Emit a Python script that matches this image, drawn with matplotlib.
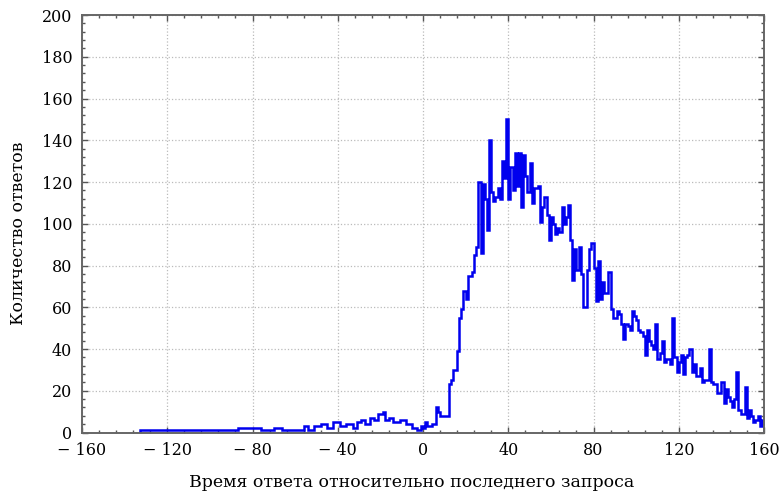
import matplotlib
matplotlib.use("Agg")
import matplotlib.pyplot as plt
from matplotlib.ticker import MultipleLocator, FuncFormatter

# histogram: bin edges and counts (step line)
edges_pre = [-133, -87, -76, -70, -66, -61, -56, -54, -51, -48, -45, -42, -39, -36,
             -33, -31, -29, -27, -25, -23, -21, -19, -18, -16, -14, -11, -8, -5, -3, -1]
counts_pre = [1, 2, 1, 2, 1, 1, 3, 1, 3, 4, 2, 5, 3, 4,
              2, 5, 6, 4, 7, 6, 9, 10, 6, 7, 5, 6, 4, 2, 1, 3]

edges_rise = [0, 1, 2, 4, 6, 7, 8, 12, 13, 14, 16, 17, 18, 19, 20, 21, 23, 24, 25,
              26, 27, 28, 29, 30, 31, 32, 33, 34, 35, 36, 37, 38, 39]
counts_rise = [2, 5, 3, 4, 12, 10, 8, 23, 25, 30, 39, 55, 59, 68, 64, 75, 77, 85, 89,
               120, 86, 119, 112, 97, 140, 115, 111, 113, 117, 112, 130, 122, 150]

edges_peak = [40, 41, 42, 43, 44, 45, 46, 47, 48, 49, 50, 51, 52, 54, 55, 56, 57, 58,
              59, 60, 61, 62, 63, 64, 65, 66, 67, 68, 69, 70, 71, 72, 73, 74, 75, 77,
              78, 79]
counts_peak = [112, 127, 116, 134, 118, 134, 108, 133, 123, 115, 129, 110, 117, 118,
               101, 108, 113, 104, 92, 103, 100, 95, 98, 96, 108, 100, 103, 109, 92,
               73, 88, 78, 89, 76, 60, 78, 88, 91]

edges_fall = [80, 81, 82, 83, 84, 85, 86, 87, 88, 89, 91, 92, 93, 94, 95, 96, 97, 98,
              99, 100, 101, 102, 103, 104, 105, 106, 107, 108, 109, 110, 111, 112, 113,
              114, 116, 117, 118, 119]
counts_fall = [79, 63, 82, 64, 72, 67, 67, 77, 59, 55, 58, 57, 52, 45, 52, 51, 49, 58,
               56, 54, 49, 48, 46, 37, 49, 44, 42, 40, 52, 35, 38, 44, 34, 35, 33, 55,
               36, 29]

edges_tail = [120, 121, 122, 123, 124, 125, 126, 127, 128, 130, 131, 132, 134, 135,
              136, 138, 140, 141, 142, 143, 144, 145, 146, 147, 148, 149, 151, 152, 153,
              154, 155, 156, 157, 158, 159, 160]
counts_tail = [34, 37, 28, 36, 37, 40, 29, 33, 27, 31, 24, 25, 40, 24,
               23, 19, 24, 14, 21, 17, 15, 12, 16, 29, 11, 9, 22, 7, 11,
               8, 5, 6, 8, 3, 6]

edges = edges_pre + edges_rise + edges_peak + edges_fall + edges_tail
counts = counts_pre + counts_rise + counts_peak + counts_fall + counts_tail

plt.rcParams['font.family'] = ['DejaVu Serif']

fig = plt.figure(figsize=(7.83, 4.94), dpi=100)
ax = fig.add_axes([82 / 783, 1 - 432.5 / 494, (764 - 82) / 783, (432.5 - 15) / 494])

ax.stairs(counts, edges, color='#0000ee', lw=1.8)

ax.set_xlim(-160, 160)
ax.set_ylim(0, 200)
ax.xaxis.set_major_locator(MultipleLocator(40))
ax.xaxis.set_minor_locator(MultipleLocator(8))
ax.yaxis.set_major_locator(MultipleLocator(20))
ax.yaxis.set_minor_locator(MultipleLocator(4))


def fmt(v, pos):
    v = int(round(v))
    if v < 0:
        return '\u2212 ' + str(-v)
    return str(v)


ax.xaxis.set_major_formatter(FuncFormatter(fmt))
ax.tick_params(which='both', direction='in', top=True, right=True,
               colors='#555555', labelcolor='black', labelsize=11.5)
ax.tick_params(which='major', length=4, width=1)
ax.tick_params(which='minor', length=2.5, width=1)
ax.tick_params(axis='x', pad=7)
ax.tick_params(axis='y', pad=7)
for s in ax.spines.values():
    s.set_color('#666666')
    s.set_linewidth(1.4)

ax.grid(True, which='major', color='#bbbbbb', linestyle=':', linewidth=0.9)
ax.set_axisbelow(True)

ax.set_xlabel('Время ответа относительно последнего запроса', fontsize=12.5)
ax.set_ylabel('Количество ответов', fontsize=12.5)
ax.xaxis.set_label_coords((412 - 82) / (764 - 82), -(474 - 432.5) / (432.5 - 15))
ax.yaxis.set_label_coords(-(82 - 27) / (764 - 82), (432.5 - 233) / (432.5 - 15))

fig.savefig('out.png', dpi=100)
